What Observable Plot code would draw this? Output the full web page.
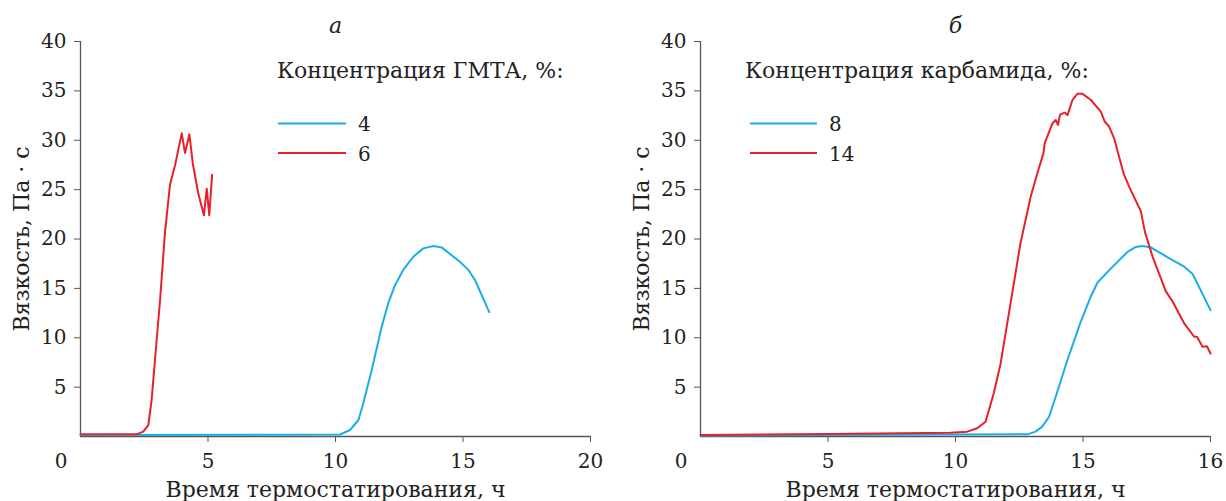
<!DOCTYPE html>
<html><head><meta charset="utf-8">
<script src="https://cdn.jsdelivr.net/npm/d3@7"></script>
<script src="https://cdn.jsdelivr.net/npm/@observablehq/plot@0.6"></script>
<style>
body{margin:0;background:#fff;}
#wrap{position:relative;width:1226px;height:501px;font-family:"DejaVu Serif",serif;color:#222;overflow:hidden;}
.panel{position:absolute;top:0;width:613px;height:501px;}
.panel svg.leg{position:absolute;left:0;top:0;pointer-events:none;overflow:visible;}
</style></head>
<body><div id="wrap"></div>
<script>
// ---------- data (hours, Pa·s) ----------
const gmta4 = [[0,0.15],[10.18,0.2],[10.57,0.66],[10.9,1.67],[11.09,3.36],[11.42,6.73],[11.81,11.1],[12.07,13.5],[12.33,15.3],[12.66,16.9],[13.05,18.2],[13.44,19.05],[13.84,19.3],[14.16,19.15],[14.88,17.7],[15.2,16.9],[15.47,15.85],[16.03,12.6]];
const gmta6 = [[0,0.22],[2.2,0.22],[2.46,0.49],[2.66,1.16],[2.79,3.7],[2.92,7.75],[3.12,13.8],[3.31,20.6],[3.51,25.5],[3.71,27.5],[3.97,30.7],[4.1,28.7],[4.27,30.6],[4.4,27.7],[4.62,24.6],[4.84,22.4],[4.95,25.1],[5.05,22.4],[5.16,26.5]];
const carb8 = [[0,0.1],[12.82,0.22],[13.14,0.49],[13.4,1.0],[13.67,2.0],[13.93,4.03],[14.39,7.75],[14.91,11.6],[15.3,14.15],[15.57,15.6],[16.09,17.0],[16.75,18.7],[17.07,19.2],[17.34,19.3],[17.66,19.15],[18.32,18.15],[18.97,17.2],[19.3,16.45],[20,12.8]];
const carb14 = [[0,0.15],[5,0.25],[9.8,0.39],[10.46,0.49],[10.85,0.83],[11.18,1.5],[11.5,4.37],[11.77,7.4],[12.16,13.5],[12.55,19.6],[12.95,24.3],[13.21,26.65],[13.45,28.7],[13.5,29.7],[13.8,31.7],[13.93,32.05],[14.02,31.55],[14.1,32.6],[14.28,32.8],[14.39,32.55],[14.59,34.1],[14.78,34.7],[14.98,34.7],[15.3,34.1],[15.7,32.9],[15.85,31.9],[16.02,31.4],[16.22,30.2],[16.59,26.65],[16.81,25.3],[17.27,22.8],[17.43,20.7],[17.73,18.2],[18.25,14.7],[18.52,13.65],[18.97,11.45],[19.36,10.1],[19.47,10.1],[19.69,9.1],[19.86,9.15],[20,8.4]];

const yTicks = [5,10,15,20,25,30,35,40];
const xTicks = [5,10,15,20];
const leftXLabels = ["5","10","15","20"];
const rightXLabels = ["5","10","15","16"];
const originLabel = ["0"];
const panelTitles = ["а","б"];
const legendTitles = ["Концентрация ГМТА, %:","Концентрация карбамида, %:"];
const leftSeries = ["4","6"];
const rightSeries = ["8","14"];
const xTitle = "Время термостатирования, ч";
const yTitle = "Вязкость, Па · с";
const colors = ["#1aaee8","#e8202a"];

const FONT = "'DejaVu Serif', serif";
const FS = 22;   // titles
const TS = 20;   // tick labels / legend numbers

function panel({left, mL, mR, seriesData, xLabels, title, legTitle, names, leg}) {
  const div = document.createElement("div");
  div.className = "panel";
  div.style.left = left + "px";
  const rows = [];
  seriesData.forEach((s, i) => s.forEach(([x, y]) => rows.push({x, y, s: names[i]})));
  const plot = Plot.plot({
    width: 613, height: 501,
    marginLeft: mL, marginRight: mR, marginTop: 41, marginBottom: 65,
    style: {fontFamily: FONT, fontSize: TS + "px", color: "#222", background: "transparent"},
    x: {domain: [0, 20]},
    y: {domain: [0, 40]},
    color: {domain: names, range: colors},
    marks: [
      Plot.ruleX([0], {stroke: "#555", strokeWidth: 1.3}),
      Plot.ruleY([0], {stroke: "#555", strokeWidth: 1.3}),
      Plot.axisY(yTicks, {anchor: "left", tickSize: 6, tickPadding: 8, stroke: "#555", fill: "#222", fontSize: TS, fontFamily: FONT, label: null}),
      Plot.axisX(xTicks, {anchor: "bottom", tickSize: 6, tickPadding: 11, stroke: "#555", fill: "#222", fontSize: TS, fontFamily: FONT, label: null,
        tickFormat: (d) => xLabels[xTicks.indexOf(d)]}),
      Plot.axisX([0], {anchor: "bottom", tickSize: 0, tickPadding: 17, dx: -19.5, fill: "#222", fontSize: TS, fontFamily: FONT, label: null,
        tickFormat: () => originLabel[0]}),
      Plot.line(rows, {x: "x", y: "y", z: "s", stroke: "s", strokeWidth: 2, curve: "linear"}),
      Plot.text([xTitle], {frameAnchor: "bottom", dy: 53, textAnchor: "middle", lineAnchor: "middle", fontSize: FS, fontFamily: FONT, fill: "#222"}),
      Plot.text([yTitle], {frameAnchor: "left", dx: -59, rotate: -90, textAnchor: "middle", lineAnchor: "middle", fontSize: FS, fontFamily: FONT, fill: "#222"}),
      Plot.text([title], {frameAnchor: "top", dy: -16, textAnchor: "middle", lineAnchor: "middle", fontSize: FS, fontFamily: FONT, fontStyle: "italic", fill: "#222"})
    ]
  });
  div.appendChild(plot);
  // legend overlay (pixel positions are styling only)
  const svg = d3.select(div).append("svg").attr("class", "leg").attr("width", 613).attr("height", 200)
    .style("font-family", FONT);
  svg.append("text").attr("x", leg.tx).attr("y", 78).attr("fill", "#222").style("font-size", FS + "px").text(legTitle);
  names.forEach((n, i) => {
    const yy = 123.5 + i * 29.5;
    svg.append("line").attr("x1", leg.lx1).attr("x2", leg.lx2).attr("y1", yy).attr("y2", yy)
      .attr("stroke", colors[i]).attr("stroke-width", 2.2);
    svg.append("text").attr("x", leg.labx).attr("y", yy + 7.5).attr("fill", "#222").style("font-size", TS + "px").text(n);
  });
  return div;
}

const wrap = document.getElementById("wrap");
wrap.appendChild(panel({left: 0, mL: 80, mR: 23, seriesData: [gmta4, gmta6], xLabels: leftXLabels,
  title: panelTitles[0], legTitle: legendTitles[0], names: leftSeries,
  leg: {tx: 277, lx1: 278, lx2: 346, labx: 358}}));
wrap.appendChild(panel({left: 613, mL: 87, mR: 16, seriesData: [carb8, carb14], xLabels: rightXLabels,
  title: panelTitles[1], legTitle: legendTitles[1], names: rightSeries,
  leg: {tx: 745 - 613, lx1: 750 - 613, lx2: 817 - 613, labx: 829 - 613}}));
</script>
</body></html>
